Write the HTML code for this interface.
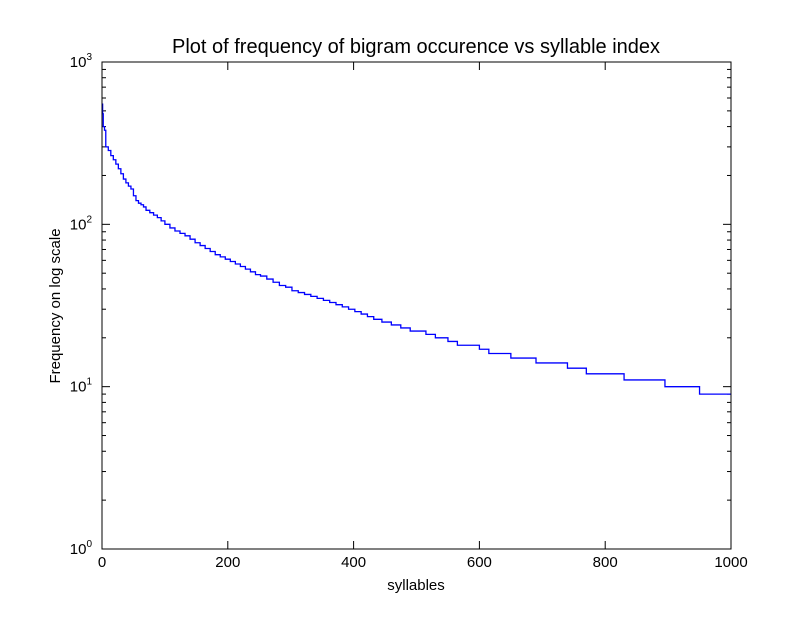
<!DOCTYPE html>
<html><head><meta charset="utf-8"><style>
body{margin:0;background:#fff;}
svg text{font-family:"Liberation Sans",sans-serif;fill:#000;}
</style></head><body>
<svg id="chart" width="812" height="612">
<rect width="812" height="612" fill="#fff"/>
<text x="416" y="53" font-size="20" text-anchor="middle">Plot of frequency of bigram occurence vs syllable index</text>
<text x="416" y="590" font-size="15" text-anchor="middle">syllables</text>
<text x="0" y="0" font-size="15" text-anchor="middle" transform="translate(60,306) rotate(-90)">Frequency on log scale</text>
<g id="ticks"></g>
<path id="line" fill="none" stroke="#0000ff" stroke-width="1.3"/>
<rect x="102" y="62" width="629" height="487" fill="none" stroke="#000" stroke-width="1"/>
</svg>
<script>
const stepStarts=[0,1,2,4,6,10,14,18,22,26,30,34,38,42,46,50,54,58,62,66,70,76,82,88,94,100,108,116,124,132,140,148,156,164,172,180,188,196,204,212,220,228,236,244,252,262,272,282,292,302,312,322,332,342,352,362,372,382,392,402,412,422,432,445,460,475,490,515,530,550,565,600,615,650,690,740,770,830,895,950];
const stepValues=[550,480,400,380,300,285,265,250,235,220,205,190,180,172,165,150,140,135,132,128,122,118,114,110,105,100,95,91,88,85,81,77,74,71,68,65,63,61,59,57,55,53,51,49,48,46,44,42,41,39,38,37,36,35,34,33,32,31,30,29,28,27,26,25,24,23,22,21,20,19,18,17,16,15,14,13,12,11,10,9,8];
const xTicks=[0,200,400,600,800,1000];
const yDecades=[0,1,2,3];
const L=102,R=731,T=62,B=549;
const xs=v=>L+(v/1000)*(R-L);
const ys=v=>B-(Math.log10(v)/3)*(B-T);
let d='';
for(let i=0;i<stepStarts.length;i++){
  const x0=xs(stepStarts[i]);
  const x1=xs(i+1<stepStarts.length?stepStarts[i+1]:1000);
  const y=ys(stepValues[i]);
  d+=(i===0?'M':'L')+x0+','+y+'L'+x1+','+y;
}
document.getElementById('line').setAttribute('d',d);
const g=document.getElementById('ticks');
const NS='http://www.w3.org/2000/svg';
function ln(x1,y1,x2,y2,name){const l=document.createElementNS(NS,'line');l.setAttribute('x1',x1);l.setAttribute('y1',y1);l.setAttribute('x2',x2);l.setAttribute('y2',y2);l.setAttribute('stroke','#000');


g.appendChild(l);}
xTicks.forEach(v=>{const x=xs(v);ln(x,B,x,B-8,'x-tick');ln(x,T,x,T+8,'x-tick-top');
const t=document.createElementNS(NS,'text');t.setAttribute('x',x);t.setAttribute('y',B+18);t.setAttribute('font-size','15');t.setAttribute('text-anchor','middle');t.textContent=v;


g.appendChild(t);});
yDecades.forEach(e=>{const y=ys(Math.pow(10,e));ln(L,y,L+8,y,'y-tick');ln(R,y,R-8,y,'y-tick-right');
const t=document.createElementNS(NS,'text');t.setAttribute('x',L-10);t.setAttribute('y',y+5);t.setAttribute('font-size','15');t.setAttribute('text-anchor','end');
t.innerHTML='10<tspan dy="-7" font-size="10">'+e+'</tspan>';


g.appendChild(t);
if(e<3){for(let m=2;m<10;m++){const yy=ys(m*Math.pow(10,e));ln(L,yy,L+4,yy,'y-minor-tick');ln(R,yy,R-4,yy,'y-minor-tick-right');}}
});
</script>
</body></html>
